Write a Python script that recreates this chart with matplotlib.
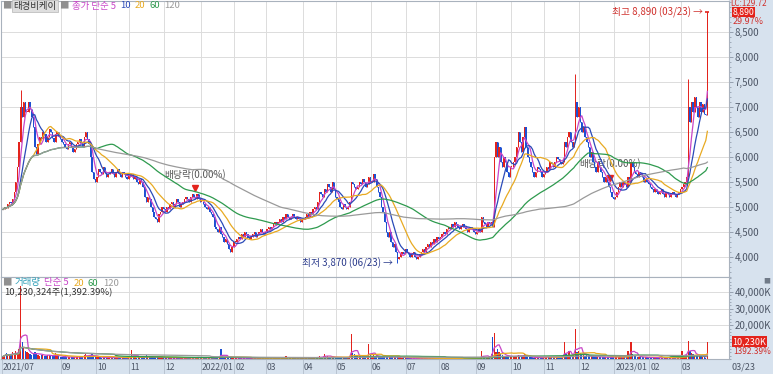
import numpy as np
import pandas as pd
import matplotlib
matplotlib.use('Agg')
import matplotlib.pyplot as plt
import matplotlib.transforms as mtransforms
from matplotlib.patches import Rectangle
from matplotlib.ticker import MultipleLocator, FuncFormatter

plt.rcParams['font.family'] = ['Liberation Sans Narrow', 'Noto Sans CJK KR', 'DejaVu Sans']

stock_name = '태경비케이'
first_day = '2021-07-12'

# daily closes (KRW), one row per month
close = [
    4950, 5000, 4980, 5050, 5100, 5080, 5150, 5300, 5500, 5800, 6300, 7000, 6800, 7100, 6900,
    6900, 7100, 6950, 6800, 6600, 6200, 6050, 6250, 6400, 6350, 6500, 6450, 6300, 6400, 6550, 6500, 6380, 6300, 6450, 6500, 6400, 6350,
    6300, 6250, 6200, 6150, 6250, 6300, 6200, 6100, 6150, 6250, 6300, 6350, 6280, 6200, 6400, 6500, 6350, 6250, 6000, 5700, 5550, 5500,
    5600, 5750, 5700, 5650, 5800, 5700, 5600, 5650, 5700, 5750, 5650, 5600, 5700, 5750, 5650, 5600, 5700, 5650, 5600, 5550, 5650,
    5600, 5650, 5550, 5600, 5500, 5450, 5550, 5500, 5400, 5200, 5100, 5200, 5150, 5000, 4900, 4800, 4750, 4700, 4850, 4900, 5000, 4950,
    4900, 5000, 4950, 5050, 5100, 5000, 5050, 5150, 5100, 5000, 5050, 5100, 5150, 5200, 5150, 5100, 5200, 5250, 5200, 5150, 5250, 5150, 5100,
    5100, 5050, 5000, 4950, 5000, 4900, 4850, 4800, 4600, 4550, 4500, 4600, 4450, 4400, 4300, 4350, 4250, 4150, 4100, 4200, 4300,
    4300, 4350, 4400, 4350, 4450, 4400, 4500, 4450, 4400, 4350, 4400, 4450, 4500, 4400, 4450, 4500, 4550, 4500, 4450, 4500,
    4550, 4600, 4550, 4600, 4650, 4700, 4650, 4700, 4750, 4700, 4800, 4750, 4850, 4800, 4750, 4800, 4850, 4800, 4750, 4800, 4750, 4700, 4750,
    4750, 4800, 4850, 4800, 4900, 4850, 4950, 5000, 4950, 5100, 5300, 5250, 5200, 5350, 5300, 5450, 5400, 5300, 5500, 5350, 5200,
    5150, 5100, 5000, 4950, 5050, 5000, 4950, 5000, 5100, 5500, 5450, 5400, 5350, 5400, 5500, 5450, 5550, 5500, 5400, 5450, 5600, 5500,
    5500, 5650, 5550, 5400, 5300, 5200, 5000, 4900, 4700, 4500, 4400, 4500, 4300, 4200, 4250, 4100, 3950, 4000, 4050, 4100, 4050, 4150,
    4100, 4050, 4000, 4050, 4100, 4000, 3950, 4000, 4050, 4100, 4150, 4100, 4200, 4250, 4200, 4300, 4250, 4350, 4300, 4400, 4350,
    4400, 4450, 4500, 4450, 4550, 4600, 4550, 4650, 4600, 4700, 4650, 4600, 4550, 4600, 4650, 4600, 4550, 4500, 4550, 4600, 4550, 4500, 4450,
    4500, 4550, 4500, 4800, 4700, 4650, 4600, 4700, 4650, 4700, 4600, 6000, 6300, 6000, 6200, 5900, 5800, 6000, 5900, 5700, 5600, 5800,
    5800, 5900, 6000, 6200, 6500, 6300, 6100, 6400, 6600, 6200, 6000, 5900, 5800, 5700, 5600, 5700, 5800, 5750, 5700, 5600, 5650,
    5700, 5800, 5750, 5900, 5850, 5800, 5900, 6000, 5950, 5900, 5850, 5900, 6300, 6200, 6400, 6500, 6300, 6200, 6300, 7100, 6800, 7000,
    6700, 6500, 6600, 6400, 6300, 6200, 6000, 6100, 5900, 5800, 5700, 5900, 5800, 5700, 5600, 5500, 5600, 5500, 5400, 5300, 5200, 5150,
    5200, 5300, 5400, 5500, 5400, 5500, 5450, 5400, 5600, 5500, 5900, 5800, 5700, 5650, 5600, 5700, 5650, 5600, 5500, 5550, 5500, 5450,
    5400, 5350, 5300, 5350, 5300, 5250, 5300, 5350, 5250, 5200, 5300, 5250, 5200, 5250, 5300, 5250, 5200, 5250, 5300, 5350,
    5400, 5450, 5500, 5600, 7000, 6700, 7100, 6900, 7200, 7000, 6800, 7100, 6900, 7050, 6850, 6840, 8890,
]

# daily volume, thousand shares
volume = [
    1500, 2500, 3500, 2000, 3000, 2500, 4000, 3000, 4500, 3500, 6000, 43500, 10000, 7000, 5000,
    4000, 3500, 3000, 2500, 3000, 4000, 3500, 2500, 2000, 2500, 3000, 2000, 1800, 2200, 2500, 2000, 1800, 1500, 3500, 1800, 1500, 1400,
    1300, 1200, 1500, 1100, 1000, 1200, 1400, 1000, 900, 1100, 1300, 1500, 1200, 1000, 2500, 3000, 1800, 1500, 2000, 2800, 1800, 1500,
    1200, 1000, 900, 800, 1100, 900, 800, 1000, 900, 800, 700, 900, 1000, 800, 700, 800, 900, 700, 800, 700, 900,
    900, 5300, 1500, 1000, 800, 900, 1000, 800, 900, 1200, 2500, 1000, 900, 1200, 1500, 1300, 1000, 900, 1100, 800, 900, 700,
    800, 700, 600, 700, 800, 600, 700, 900, 600, 500, 600, 700, 600, 800, 700, 600, 700, 900, 800, 700, 1200, 1000, 700,
    700, 600, 800, 700, 600, 800, 900, 800, 1200, 1000, 1100, 1300, 5900, 1500, 1200, 1000, 1100, 1300, 900, 800, 700,
    600, 500, 500, 600, 500, 400, 500, 600, 500, 400, 500, 400, 500, 600, 400, 500, 500, 400, 500, 600,
    500, 600, 500, 400, 500, 600, 500, 700, 600, 500, 600, 500, 1500, 700, 600, 500, 600, 500, 400, 500, 600, 500, 400,
    500, 600, 500, 700, 600, 800, 700, 900, 800, 1000, 1500, 1200, 1000, 3000, 1500, 2000, 1200, 1000, 1500, 1100, 900,
    900, 800, 900, 700, 800, 700, 800, 900, 2000, 14700, 3500, 3000, 2000, 1500, 1800, 1500, 1200, 1300, 1100, 1500, 8800, 2500,
    2000, 2500, 1800, 1500, 1400, 1200, 1300, 1500, 1400, 1600, 1300, 1200, 1100, 1300, 1000, 1100, 1500, 1200, 900, 800, 900, 700,
    500, 400, 400, 300, 400, 500, 400, 300, 400, 300, 400, 500, 400, 300, 400, 300, 400, 500, 400, 300, 400,
    400, 300, 400, 500, 400, 300, 400, 300, 500, 400, 300, 400, 300, 400, 500, 400, 300, 400, 300, 400, 500, 400, 300,
    400, 500, 600, 4900, 1500, 1000, 800, 1200, 1500, 3000, 13100, 15200, 4000, 5900, 4000, 3000, 2500, 2000, 1800, 1500, 2000, 1500,
    1500, 1200, 1800, 2000, 2500, 1500, 1200, 2000, 3000, 1800, 1200, 1000, 900, 1000, 800, 900, 800, 700, 800, 1000, 900,
    1000, 2000, 900, 1000, 1200, 1000, 900, 1500, 1200, 1000, 1100, 1500, 10200, 3000, 2500, 5000, 2000, 1800, 2500, 18000, 4000, 5000,
    3500, 3000, 2500, 2000, 2200, 1800, 1500, 1800, 1500, 1300, 1200, 1500, 1300, 1100, 1000, 1200, 1000, 900, 1000, 1100, 1200, 1500,
    1200, 1000, 1300, 1500, 1200, 1100, 1400, 1300, 5000, 2500, 10200, 3000, 2000, 1500, 1300, 1200, 1500, 1000, 900, 1100, 1000, 800,
    900, 800, 700, 900, 800, 700, 600, 800, 700, 600, 700, 800, 600, 700, 800, 700, 600, 700, 900, 1000,
    5000, 2000, 2500, 3000, 10800, 5000, 3500, 3000, 2500, 2000, 2500, 1800, 1500, 1200, 1000, 686, 10230,
]

high_days = ['2021-07-27', '2022-11-28', '2023-03-07']
high_vals = [7330, 7650, 7550]
low_days = ['2022-06-23']
low_vals = [3870]
exdiv_days = ['2021-12-28', '2022-12-28']

ma_price = [5, 10, 20, 60, 120]
ma_price_colors = ['#c846c8', '#2a4ab8', '#e8aa22', '#2e9a4e', '#9a9a9a']
ma_vol = [5, 20, 60, 120]
ma_vol_colors = ['#c846c8', '#e8aa22', '#2e9a4e', '#9a9a9a']

last_lc = 129.72
price_change = 29.97
last_volume = 10230324
volume_change = 1392.39

assert len(close) == len(volume)

RED = '#e3231c'
BLUE = '#1d50d2'
STRIP = '#d7e2ee'
GRID = '#dcdcdc'
TXT = '#4d5666'

dates = pd.bdate_range(first_day, periods=len(close))
c = np.array(close, float)
o = np.r_[c[0], c[:-1]]
h = np.maximum(o, c)
l = np.minimum(o, c)
for d, v in zip(high_days, high_vals):
    h[dates.get_loc(pd.Timestamp(d))] = v
for d, v in zip(low_days, low_vals):
    l[dates.get_loc(pd.Timestamp(d))] = v
idx = np.arange(len(c))
up = c >= o
colors = np.where(up, RED, BLUE)

W, H = 773, 374
fig = plt.figure(figsize=(W / 100, H / 100), dpi=100)


def box(x0, y0, x1, y1):
    return [x0 / W, 1 - y1 / H, (x1 - x0) / W, (y1 - y0) / H]


# strips (right axis area and date row), behind the axes
fig.patches.append(Rectangle((729 / W, 0), 1, 1, transform=fig.transFigure, color=STRIP, zorder=-5))
fig.patches.append(Rectangle((0, 0), 1, 15 / H, transform=fig.transFigure, color=STRIP, zorder=-5))

axp = fig.add_axes(box(1, 1, 729, 277))
axv = fig.add_axes(box(1, 277, 729, 359), sharex=axp)

x_left = -1.3
x_right = 456.6
axp.set_xlim(x_left, x_right)
axp.set_ylim(3600, 9110)
axv.set_ylim(0, 48800)

# month ticks
month_pos = [0]
month_lab = [dates[0].strftime('%Y/%m')]
for i in range(1, len(dates)):
    if dates[i].month != dates[i - 1].month:
        if i - month_pos[-1] < 20:
            continue
        month_pos.append(i)
        month_lab.append(dates[i].strftime('%Y/%m') if dates[i].month == 1 else dates[i].strftime('%m'))

for ax in (axp, axv):
    for p in month_pos[1:]:
        ax.axvline(p - 0.5, color=GRID, lw=0.7, zorder=0)
    for s in ax.spines.values():
        s.set_color('#a9b2bd')
        s.set_linewidth(0.8)
    ax.yaxis.tick_right()
    ax.tick_params(axis='y', which='major', direction='out', length=3, width=0.6, color='#8a95a5',
                   labelsize=7, labelcolor=TXT, pad=1)
    ax.tick_params(axis='y', which='minor', direction='out', length=1.5, width=0.5, color='#8a95a5')
    ax.tick_params(axis='x', length=0, labelbottom=False)

axp.set_yticks(np.arange(4000, 9000, 500))
axp.yaxis.set_minor_locator(MultipleLocator(100))
axp.yaxis.set_major_formatter(FuncFormatter(lambda v, p: f'{v:,.0f}'))
for v in np.arange(4000, 9000, 500):
    axp.axhline(v, color=GRID, lw=0.7, zorder=0)

vol_ticks = [10000, 20000, 30000, 40000]
axv.set_yticks(vol_ticks)
axv.yaxis.set_minor_locator(MultipleLocator(2000))
# the 10,000K label sits under the last-volume box
axv.yaxis.set_major_formatter(FuncFormatter(lambda v, p: f'{v:,.0f}K' if v > 15000 else ''))
for v in vol_ticks:
    axv.axhline(v, color=GRID, lw=0.7, zorder=0)

# candles
axp.vlines(idx, l, h, colors=colors, lw=0.7, zorder=3)
body = np.maximum(np.abs(c - o), 15)
axp.bar(idx, body, bottom=np.minimum(o, c), width=0.8, color=colors, lw=0, zorder=3)

cs = pd.Series(c)
for n, col in zip(ma_price, ma_price_colors):
    axp.plot(idx, cs.rolling(n, min_periods=1).mean(), color=col, lw=0.9, zorder=4)

# volume
vol = np.array(volume, float)
axv.bar(idx, vol, width=0.8, color=colors, lw=0, zorder=3)
vs = pd.Series(vol)
for n, col in zip(ma_vol, ma_vol_colors):
    axv.plot(idx, vs.rolling(n, min_periods=1).mean(), color=col, lw=0.9, zorder=4)

# annotations on the price panel
imax = int(np.argmax(h))
imin = int(np.argmin(l))
axp.annotate(f'최고 {h[imax]:,.0f} ({dates[imax]:%m/%d}) →', xy=(imax, h[imax]), xytext=(-3, 0),
             textcoords='offset points', ha='right', va='center', fontsize=7, color='#d0302c', zorder=6)
axp.hlines(h[imax], imax - 1.2, imax + 1.2, color=RED, lw=1.2, zorder=5)
axp.annotate(f'최저 {l[imin]:,.0f} ({dates[imin]:%m/%d}) →', xy=(imin, l[imin]), xytext=(-3, 0),
             textcoords='offset points', ha='right', va='center', fontsize=7, color='#2c3c8c', zorder=6)
for d in exdiv_days:
    i = dates.get_loc(pd.Timestamp(d))
    axp.plot(i, h[i] + 180, marker='v', color=RED, ms=4, zorder=2)
    axp.annotate('배당락(0.00%)', xy=(i, h[i] + 180), xytext=(0, 6), textcoords='offset points',
                 ha='center', va='bottom', fontsize=7, color='#555555', zorder=2)


def chain(ax, x, y, items, size=6.8):
    prev = None
    for text, color, gap, boxed in items:
        kw = dict(color=color, fontsize=size, va='center', ha='left', zorder=10, annotation_clip=False)
        if boxed:
            kw['bbox'] = dict(boxstyle='square,pad=0.12', fc='#dedede', ec='#b5b5b5', lw=0.5)
        if prev is None:
            prev = ax.annotate(text, xy=(x, y), xycoords='figure pixels', **kw)
        else:
            prev = ax.annotate(text, xy=(1, 0.5), xycoords=prev, xytext=(gap, 0),
                               textcoords='offset points', **kw)


chain(axp, 2, H - 6, [('■', '#909090', 0, False), (stock_name, '#333333', 1.5, True), ('■', '#909090', 2, False),
                      ('종가 단순 5', '#c846c8', 2, False), ('10', '#2a4ab8', 3, False), ('20', '#e8aa22', 3, False),
                      ('60', '#2e9a4e', 3, False), ('120', '#9a9a9a', 3, False)])
chain(axv, 2, H - 283, [('■', '#909090', 0, False), ('거래량', '#2f9fb8', 2, False), ('단순 5', '#c846c8', 3, False),
                        ('20', '#e8aa22', 3, False), ('60', '#2e9a4e', 3, False), ('120', '#9a9a9a', 3, False)])
fig.text(4 / W, 1 - 293 / H, f'{last_volume:,}주({volume_change:,.2f}%)', fontsize=6.8, color='#333333',
         va='center', ha='left')

# right strip labels
tp = mtransforms.blended_transform_factory(axp.transAxes, axp.transData)
fig.text(730 / W, 1 - 3.5 / H, f'LC:{last_lc}', fontsize=5.8, color='#d0302c', va='center', zorder=20)
axp.text(1.005, c[-1], f'{c[-1]:,.0f}', transform=tp, fontsize=6.3, color='white', va='center', ha='left',
         bbox=dict(boxstyle='square,pad=0.05', fc=RED, ec='none'), zorder=10, clip_on=False)
fig.text(733 / W, 1 - 22 / H, f'{price_change:.2f}%', fontsize=6.5, color='#d0302c', va='center')
tv = mtransforms.blended_transform_factory(axv.transAxes, axv.transData)
axv.text(1.005, vol[-1], f'{vol[-1]:,.0f}K', transform=tv, fontsize=6.5, color='white', va='center', ha='left',
         bbox=dict(boxstyle='square,pad=0.12', fc=RED, ec='none'), zorder=10, clip_on=False)
fig.text(733 / W, 1 - 352 / H, f'{volume_change:.2f}%', fontsize=6, color='#d0302c', va='center')
fig.text(767 / W, 1 - 281 / H, '■', fontsize=5, color='#707a88', va='center', ha='center')

# date row
tx = mtransforms.blended_transform_factory(axv.transData, fig.transFigure)
for p, lab in zip(month_pos, month_lab):
    xp = max(p - 0.5, x_left + 0.3)
    axv.text(xp + 0.5, 7 / H, lab, transform=tx, fontsize=6.2, color=TXT, va='center', ha='left', clip_on=False)
    axv.plot([p - 0.5, p - 0.5], [0, 15 / H], transform=tx, color='#b4bfcc', lw=0.6, clip_on=False)
fig.text(731 / W, 7 / H, f'{dates[-1]:%m/%d}', fontsize=6.5, color=TXT, va='center', ha='left')

fig.savefig('out.png', dpi=100)
